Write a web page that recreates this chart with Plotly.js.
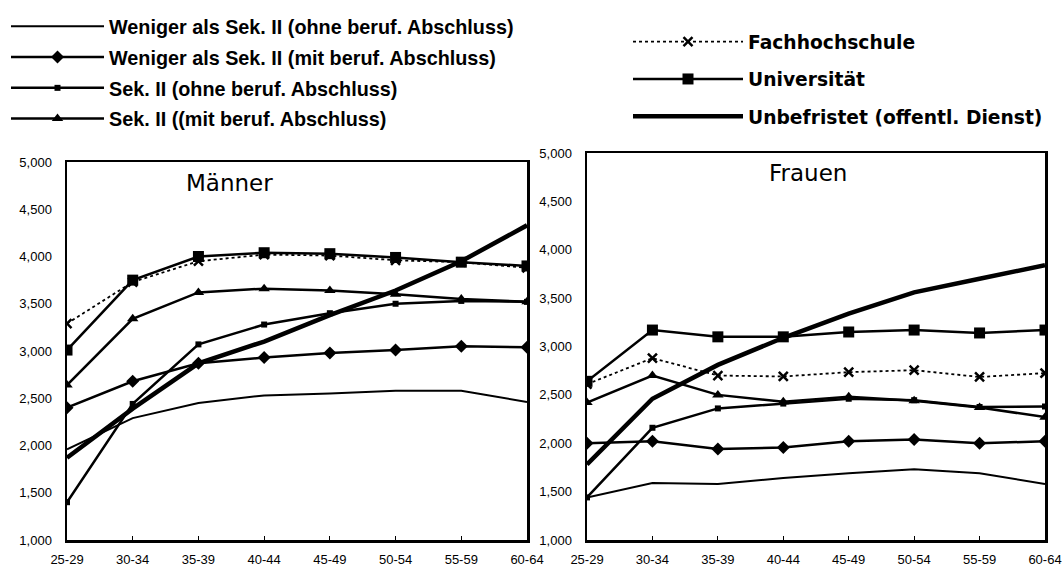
<!DOCTYPE html>
<html>
<head>
<meta charset="utf-8">
<script src="https://cdn.plot.ly/plotly-3.0.1.min.js"></script>
<style>html,body{margin:0;padding:0;background:#fff;}#chart{width:1063px;height:573px;}</style>
</head>
<body>
<div id="chart"></div>
<script>
const ageGroups = ['25-29','30-34','35-39','40-44','45-49','50-54','55-59','60-64'];
const yTicks = [1000,1500,2000,2500,3000,3500,4000,4500,5000];

const seriesNames = [
  'Weniger als Sek. II (ohne beruf. Abschluss)',
  'Weniger als Sek. II (mit beruf. Abschluss)',
  'Sek. II (ohne beruf. Abschluss)',
  'Sek. II ((mit beruf. Abschluss)',
  'Fachhochschule',
  'Universität',
  'Unbefristet (offentl. Dienst)'
];

// Männer
const mWenigerOhne = [1960, 2290, 2450, 2530, 2550, 2580, 2580, 2460];
const mWenigerMit  = [2400, 2680, 2870, 2930, 2980, 3010, 3050, 3040];
const mSekOhne     = [1400, 2440, 3070, 3280, 3400, 3500, 3530, 3520];
const mSekMit      = [2640, 3340, 3620, 3660, 3640, 3600, 3550, 3520];
const mFH          = [3290, 3730, 3950, 4020, 4010, 3960, 3940, 3880];
const mUni         = [3010, 3750, 4000, 4040, 4030, 3990, 3940, 3900];
const mUnbefristet = [1870, 2390, 2870, 3100, 3380, 3640, 3950, 4330];

// Frauen
const fWenigerOhne = [1440, 1590, 1580, 1640, 1690, 1730, 1690, 1580];
const fWenigerMit  = [2000, 2020, 1940, 1955, 2020, 2040, 2000, 2020];
const fSekOhne     = [1440, 2160, 2360, 2410, 2460, 2445, 2375, 2380];
const fSekMit      = [2420, 2700, 2500, 2430, 2480, 2440, 2370, 2270];
const fFH          = [2610, 2880, 2700, 2690, 2735, 2755, 2685, 2725];
const fUni         = [2640, 3170, 3100, 3100, 3150, 3170, 3140, 3170];
const fUnbefristet = [1780, 2460, 2810, 3090, 3340, 3560, 3700, 3840];

const maennerData = [mWenigerOhne, mWenigerMit, mSekOhne, mSekMit, mFH, mUni, mUnbefristet];
const frauenData  = [fWenigerOhne, fWenigerMit, fSekOhne, fSekMit, fFH, fUni, fUnbefristet];

const styles = [
  {line:{color:'#000', width:2}, mode:'lines'},
  {line:{color:'#000', width:2.5}, mode:'lines+markers', marker:{symbol:'diamond', size:10, color:'#000'}},
  {line:{color:'#000', width:2.5}, mode:'lines+markers', marker:{symbol:'square', size:6, color:'#000'}},
  {line:{color:'#000', width:2.5}, mode:'lines+markers', marker:{symbol:'triangle-up', size:10, color:'#000'}},
  {line:{color:'#000', width:1.8, dash:'dot'}, mode:'lines+markers', marker:{symbol:'x-thin', size:9, color:'#000', line:{color:'#000', width:2.5}}},
  {line:{color:'#000', width:2.5}, mode:'lines+markers', marker:{symbol:'square', size:11, color:'#000'}},
  {line:{color:'#000', width:4.5}, mode:'lines'}
];

const traces = [];
seriesNames.forEach((name, i) => {
  const leg = i < 4 ? 'legend' : 'legend2';
  traces.push(Object.assign({
    type:'scatter', x: ageGroups, y: maennerData[i], name: name,
    xaxis:'x', yaxis:'y', legend: leg, legendgroup: 'g'+i, showlegend: true
  }, JSON.parse(JSON.stringify(styles[i]))));
  traces.push(Object.assign({
    type:'scatter', x: ageGroups, y: frauenData[i], name: name,
    xaxis:'x2', yaxis:'y2', legend: leg, legendgroup: 'g'+i, showlegend: false
  }, JSON.parse(JSON.stringify(styles[i]))));
});

const W = 1063, H = 573;
const px = v => v / W;
const py = v => 1 - v / H;

const axisX = {
  type:'category', range:[0,7], showline:true, mirror:true, linecolor:'#000', linewidth:2.5,
  ticks:'inside', ticklen:4, tickcolor:'#000', showgrid:false, zeroline:false,
  ticklabelstandoff: 6,
  tickfont:{family:'Liberation Sans, Arial', size:13, color:'#000'}, fixedrange:true
};
const axisY = {
  range:[1000,5000], tickvals: yTicks, tickformat:',d', showline:true, mirror:true, linecolor:'#000', linewidth:2.5,
  ticks:'', showgrid:false, zeroline:false, ticklabelstandoff: 10,
  tickfont:{family:'Liberation Sans, Arial', size:13, color:'#000'}, fixedrange:true
};

const layout = {
  width: W, height: H,
  margin:{l:0, r:0, t:0, b:0},
  paper_bgcolor:'#fff', plot_bgcolor:'#fff',
  showlegend:true,
  xaxis: Object.assign({}, axisX, {domain:[px(67), px(527)], anchor:'y'}),
  yaxis: Object.assign({}, axisY, {domain:[py(540), py(162)], anchor:'x'}),
  xaxis2: Object.assign({}, axisX, {domain:[px(587), px(1045)], anchor:'y2'}),
  yaxis2: Object.assign({}, axisY, {domain:[py(540), py(153)], anchor:'x2'}),
  legend: {
    x: px(6), y: py(7), xanchor:'left', yanchor:'top', bgcolor:'rgba(0,0,0,0)',
    font:{family:'Liberation Sans, Arial', size:19.8, color:'#000', weight:'bold'},
    itemwidth: 93, tracegroupgap: 2, itemclick:false, itemdoubleclick:false
  },
  legend2: {
    x: px(628), y: py(23), xanchor:'left', yanchor:'top', bgcolor:'rgba(0,0,0,0)',
    font:{family:'DejaVu Sans, Verdana', size:18.7, color:'#000', weight:'bold'},
    itemwidth: 110, tracegroupgap: 10, itemclick:false, itemdoubleclick:false
  },
  annotations: [
    {text:'Männer', x: px(229), y: py(183), xref:'paper', yref:'paper', xanchor:'center', yanchor:'middle', showarrow:false,
     font:{family:'DejaVu Sans', size:23, color:'#000'}},
    {text:'Frauen', x: px(808), y: py(173), xref:'paper', yref:'paper', xanchor:'center', yanchor:'middle', showarrow:false,
     font:{family:'DejaVu Sans', size:23, color:'#000'}}
  ]
};

Plotly.newPlot('chart', traces, layout, {displayModeBar:false, staticPlot:true});
</script>
</body>
</html>
